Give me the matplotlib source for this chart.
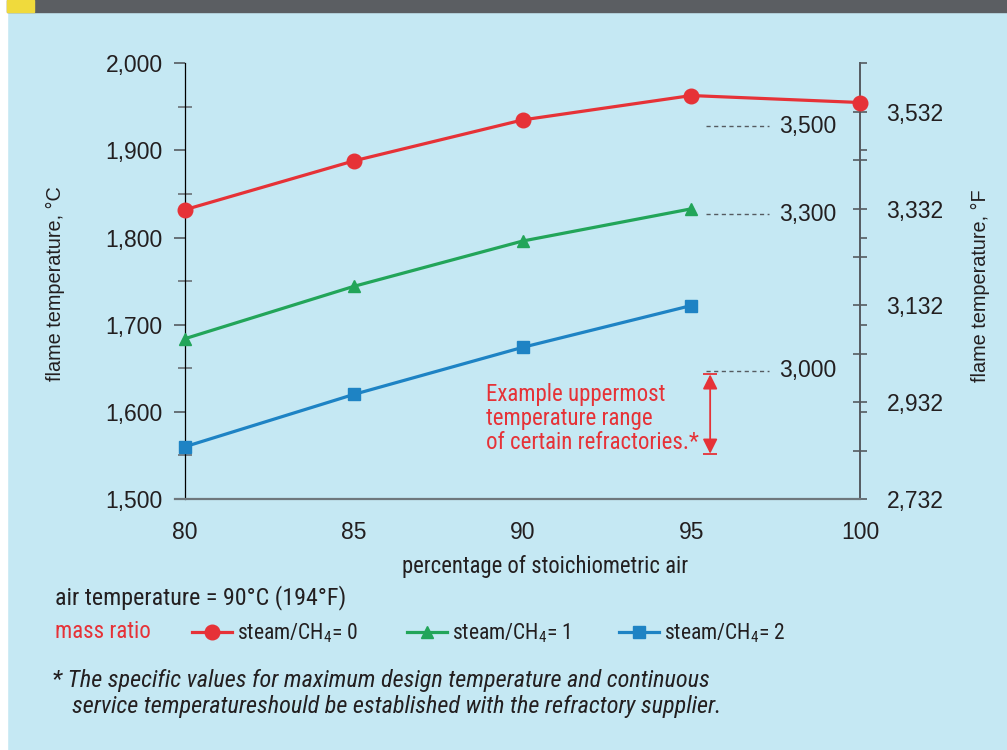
import matplotlib
matplotlib.use("Agg")
import matplotlib.pyplot as plt
from matplotlib import font_manager
from matplotlib.patches import Rectangle
from matplotlib.ticker import FixedLocator, FuncFormatter

# data
air_pct = [80, 85, 90, 95, 100]
steam0 = [1832, 1888, 1935, 1963, 1955]
steam1_x = [80, 85, 90, 95]
steam1 = [1684, 1744, 1796, 1833]
steam2_x = [80, 85, 90, 95]
steam2 = [1560, 1620, 1674, 1722]

ref_f_labels = ["3,500", "3,300", "3,000"]
ref_f_pos_c = [1928, 1827, 1647]
refractory_range = [1552, 1643]

BG = "#c5e8f3"
RED = "#e63237"
GREEN = "#22a559"
BLUE = "#1e83c4"
INK = "#231f20"
GREY = "#555b60"


def pick(cands):
    have = {f.name for f in font_manager.fontManager.ttflist}
    for c in cands:
        if c in have:
            return c
    return "DejaVu Sans"


NARROW = [pick(["Liberation Sans Narrow", "Roboto Condensed", "Archivo Narrow", "PT Sans Narrow",
                "Fira Sans Condensed", "IBM Plex Sans Condensed", "Roboto"]), "DejaVu Sans"]
REG = [pick(["Liberation Sans", "Arimo", "Roboto"]), "DejaVu Sans"]

plt.rcParams["font.family"] = REG
plt.rcParams["mathtext.fontset"] = "custom"
plt.rcParams["mathtext.rm"] = NARROW[0]

W, H = 1007, 750
fig = plt.figure(figsize=(W / 100, H / 100), dpi=100, facecolor=BG)

# page furniture: white margin, top bar, yellow tab
fig.patches.append(Rectangle((0, 0), 7 / W, 1, transform=fig.transFigure, color="white", zorder=0))
fig.patches.append(Rectangle((7 / W, 1 - 12 / H), 1, 12 / H, transform=fig.transFigure, color="#5b5e62", zorder=0))
fig.patches.append(Rectangle((7 / W, 1 - 12 / H), 27 / W, 12 / H, transform=fig.transFigure, color="#f0da3c", zorder=1))

x0, x1 = 185, 860
y0, y1 = 499, 63.3
ax = fig.add_axes([x0 / W, 1 - y0 / H, (x1 - x0) / W, (y0 - y1) / H])
ax.set_facecolor("none")
ax.set_xlim(80, 100)
ax.set_ylim(1500, 2000)

for s in ["top", "right"]:
    ax.spines[s].set_visible(False)
ax.spines["left"].set_color("black")
ax.spines["left"].set_linewidth(0.9)
ax.spines["bottom"].set_color("#6e777c")
ax.spines["bottom"].set_linewidth(1.6)
ax.spines["bottom"].set_bounds(79.7, 100)

ax.set_xticks(air_pct)
ax.tick_params(axis="x", length=0, pad=16, labelsize=16.5, labelcolor=INK)
ax.set_yticks([1500, 1600, 1700, 1800, 1900, 2000])
ax.yaxis.set_major_formatter(FuncFormatter(lambda v, p: f"{int(v):,}"))
ax.yaxis.set_minor_locator(FixedLocator([1550, 1650, 1750, 1850, 1950]))
ax.tick_params(axis="y", which="major", direction="out", length=8, width=1.2,
               color=GREY, pad=8, labelsize=16.5, labelcolor=INK)
ax.tick_params(axis="y", which="minor", direction="inout", length=10, width=1.2, color="#6a7075")
for lab in ax.get_xticklabels() + ax.get_yticklabels():
    lab.set_family(REG)

# Fahrenheit axis
ax2 = ax.twinx()
ax2.set_ylim(1500 * 9 / 5 + 32, 2000 * 9 / 5 + 32)
for s in ["top", "left", "bottom"]:
    ax2.spines[s].set_visible(False)
ax2.spines["right"].set_color(GREY)
ax2.spines["right"].set_linewidth(1.4)
ax2.set_yticks([2732 + 100 * i for i in range(9)])
ax2.yaxis.set_major_formatter(FuncFormatter(lambda v, p: f"{int(round(v)):,}" if int(round(v - 2732)) % 200 == 0 else ""))
ax2.yaxis.set_minor_locator(FixedLocator([c * 9 / 5 + 32 for c in range(1500, 2001, 100)]))
ax2.tick_params(axis="y", which="major", direction="inout", length=10, width=1.2,
                color=GREY, pad=14, labelsize=16.5, labelcolor=INK)
ax2.tick_params(axis="y", which="minor", direction="out", length=5, width=1.2, color=GREY)
ax2.set_zorder(0)
ax.set_zorder(1)

# series
l0, = ax.plot(air_pct, steam0, color=RED, lw=2.3, marker="o", ms=10.5, clip_on=False, zorder=5)
l1, = ax.plot(steam1_x, steam1, color=GREEN, lw=2.3, marker="^", ms=9, clip_on=False, zorder=5)
l2, = ax.plot(steam2_x, steam2, color=BLUE, lw=2.3, marker="s", ms=9, clip_on=False, zorder=5)

# reference Fahrenheit marks
for lab, yc in zip(ref_f_labels, ref_f_pos_c):
    ax.plot([95.45, 97.3], [yc, yc], color="#555b60", lw=1, ls=(0, (3, 2.5)), zorder=3)
    ax.text(97.6, yc, lab, ha="left", va="center", fontsize=16.5, color=INK, family=REG)

# refractory range arrow
xa = 95.56
ax.annotate("", xy=(xa, refractory_range[1]), xytext=(xa, refractory_range[0]),
            arrowprops=dict(arrowstyle="<|-|>", color=RED, lw=1.3, mutation_scale=22,
                            shrinkA=0, shrinkB=0))
ax.hlines(refractory_range, xa - 0.2, xa + 0.2, color=RED, lw=1.3)
ax.text(88.92, 1592.5, "Example uppermost\ntemperature range\nof certain refractories.*",
        ha="left", va="center", fontsize=16.5, color=RED, family=NARROW, linespacing=1.05)

# axis titles
fig.text(55 / W, 1 - 284 / H, "flame temperature, °C", rotation=90, ha="center", va="center",
         fontsize=14.3, color=INK, family=REG)
fig.text(980 / W, 1 - 286 / H, "flame temperature, °F", rotation=90, ha="center", va="center",
         fontsize=14.3, color=INK, family=REG)
fig.text(545 / W, 1 - 567 / H, "percentage of stoichiometric air", ha="center", va="center",
         fontsize=16.3, color=INK, family=NARROW)

# legend block
fig.text(55 / W, 1 - 598 / H, "air temperature = 90°C (194°F)", ha="left", va="center",
         fontsize=17.3, color=INK, family=NARROW)
fig.text(55 / W, 1 - 632 / H, "mass ratio", ha="left", va="center",
         fontsize=16.5, color=RED, family=NARROW)
leg = fig.legend([l0, l1, l2],
                 ["steam/CH$_\\mathregular{4}$= 0", "steam/CH$_\\mathregular{4}$= 1", "steam/CH$_\\mathregular{4}$= 2"],
                 loc="center left", bbox_to_anchor=(192 / W, 1 - 633 / H), ncol=3, frameon=False,
                 borderaxespad=0, borderpad=0, handlelength=1.85, handletextpad=0.25,
                 columnspacing=2.25, prop={"family": NARROW, "size": 15.5})
for t in leg.get_texts():
    t.set_color(INK)

# footnote
fig.text(52 / W, 1 - 681 / H, "* The specific values for maximum design temperature and continuous",
         ha="left", va="center", fontsize=17.5, style="italic", color=INK, family=NARROW)
fig.text(72 / W, 1 - 706 / H, "service temperatureshould be established with the refractory supplier.",
         ha="left", va="center", fontsize=17.5, style="italic", color=INK, family=NARROW)

fig.savefig("out.png", dpi=100, facecolor=BG)
